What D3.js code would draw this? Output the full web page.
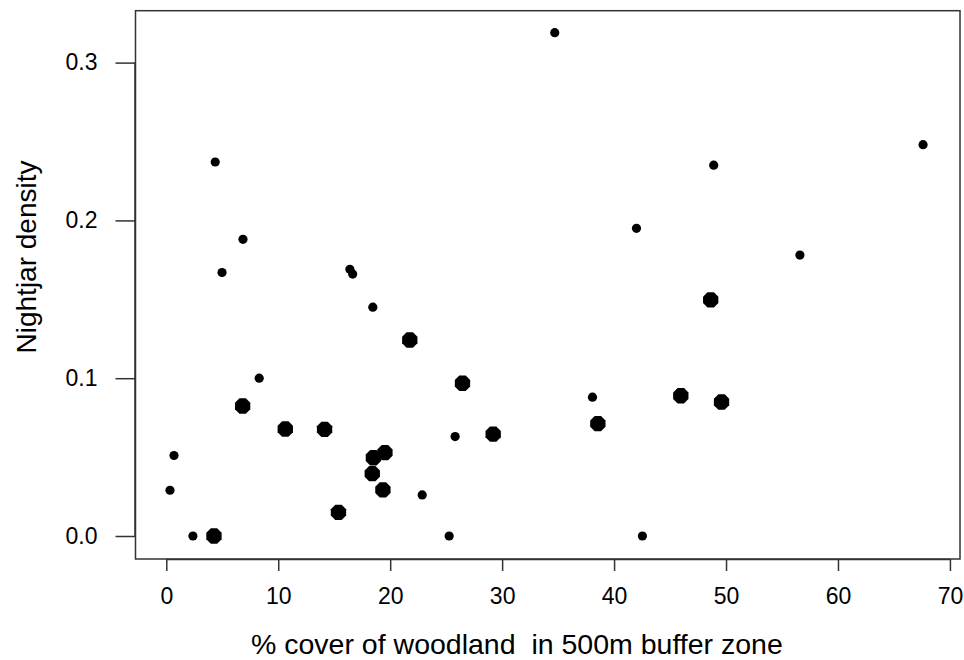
<!DOCTYPE html>
<html>
<head>
<meta charset="utf-8">
<script src="https://cdn.jsdelivr.net/npm/d3@7/dist/d3.min.js"></script>
<style>
  html, body { margin: 0; padding: 0; background: #fff; }
  svg { display: block; font-family: "Liberation Sans", Arial, Helvetica, sans-serif; }
</style>
</head>
<body>
<svg id="chart" width="964" height="660"></svg>
<script>
// Data
const smallWoodland = [34.7, 4.37, 6.85, 4.98, 16.4, 16.65, 18.45, 8.3, 0.69, 0.33, 2.38, 22.86, 25.8, 25.27, 38.07, 42.53, 42.0, 48.9, 56.6, 67.6];
const smallDensity  = [0.319, 0.237, 0.188, 0.167, 0.169, 0.166, 0.145, 0.100, 0.051, 0.029, 0.0, 0.026, 0.063, 0.0, 0.088, 0.0, 0.195, 0.235, 0.178, 0.248];
const largeWoodland = [6.82, 10.63, 14.14, 18.5, 19.53, 18.4, 19.35, 15.38, 4.26, 26.46, 29.2, 38.55, 45.96, 49.6, 21.75, 48.63];
const largeDensity  = [0.0824, 0.0678, 0.0676, 0.0496, 0.0528, 0.0395, 0.0292, 0.015, 0.0, 0.0968, 0.0646, 0.0712, 0.0889, 0.0849, 0.1242, 0.1496];
const xTicks = [0, 10, 20, 30, 40, 50, 60, 70];
const yTicks = [0.0, 0.1, 0.2, 0.3];
const xTitle = "% cover of woodland  in 500m buffer zone";
const yTitle = "Nightjar density";

const svg = d3.select("#chart");
const box = { left: 135.5, right: 960, top: 10.7, bottom: 559 };

const x = d3.scaleLinear().domain([-2.75, 70.9]).range([box.left, box.right]);
const y = d3.scaleLinear().domain([-0.01458, 0.3329]).range([box.bottom, box.top]);

const axisColor = "#333";

// Box
svg.append("rect")
  .attr("x", box.left).attr("y", box.top)
  .attr("width", box.right - box.left).attr("height", box.bottom - box.top)
  .attr("fill", "none").attr("stroke", axisColor).attr("stroke-width", 1.5);

// X axis
const xAxis = d3.axisBottom(x).tickValues(xTicks).tickSize(12).tickPadding(17)
  .tickFormat(d3.format("d"));
const gx = svg.append("g").attr("transform", `translate(0,${box.bottom})`).call(xAxis);
gx.select(".domain").attr("d", `M${x(0)},0.5H${x(70)}`).attr("stroke", axisColor).attr("stroke-width", 1.5);
gx.selectAll(".tick line").attr("stroke", axisColor).attr("stroke-width", 1.5);
gx.selectAll(".tick text").attr("font-size", 23).attr("fill", "#000")
  .attr("font-family", "'Liberation Sans', Arial, sans-serif");

// Y axis
const yAxis = d3.axisLeft(y).tickValues(yTicks).tickSize(20).tickPadding(18)
  .tickFormat(d3.format(".1f"));
const gy = svg.append("g").attr("transform", `translate(${box.left},0)`).call(yAxis);
gy.select(".domain").attr("d", `M-0.5,${y(0)}V${y(0.3)}`).attr("stroke", axisColor).attr("stroke-width", 1.5);
gy.selectAll(".tick line").attr("stroke", axisColor).attr("stroke-width", 1.5);
gy.selectAll(".tick text").attr("font-size", 23).attr("fill", "#000")
  .attr("font-family", "'Liberation Sans', Arial, sans-serif");

// Titles
svg.append("text")
  .attr("x", 251).attr("y", 654)
  .attr("font-size", 28.5).attr("fill", "#000")
  .attr("text-anchor", "start")
  .style("white-space", "pre")
  .attr("xml:space", "preserve")
  .text(xTitle);

svg.append("text")
  .attr("transform", `translate(36,257) rotate(-90)`)
  .attr("font-size", 28).attr("fill", "#000")
  .attr("text-anchor", "middle")
  .text(yTitle);

// Points
const small = smallWoodland.map((w, i) => ({ w, d: smallDensity[i] }));
const large = largeWoodland.map((w, i) => ({ w, d: largeDensity[i] }));

svg.append("g").selectAll("circle").data(small).join("circle")
  .attr("cx", d => x(d.w)).attr("cy", d => y(d.d)).attr("r", 4.6).attr("fill", "#000");

const octR = 8.3;
const octPts = d3.range(8).map(k => {
  const a = Math.PI / 8 + k * Math.PI / 4;
  return [octR * Math.cos(a), octR * Math.sin(a)];
});
const octPath = d3.line().curve(d3.curveLinearClosed)(octPts);

svg.append("g").selectAll("path").data(large).join("path")
  .attr("transform", d => `translate(${x(d.w)},${y(d.d)})`)
  .attr("d", octPath).attr("fill", "#000");
</script>
</body>
</html>
